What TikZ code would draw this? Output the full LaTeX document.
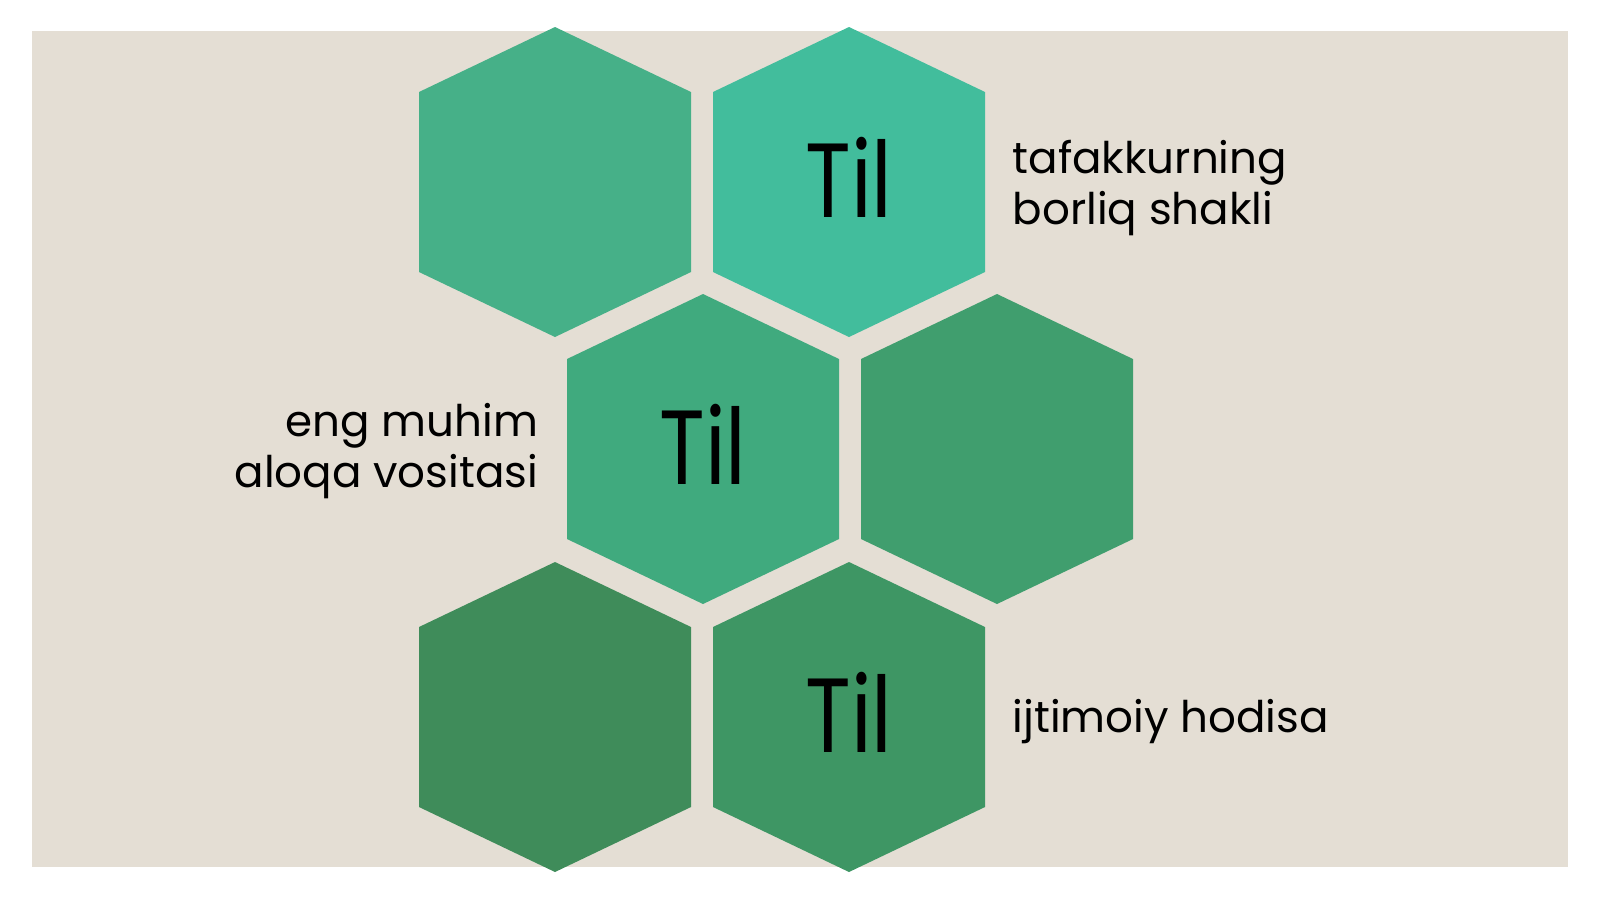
\documentclass[tikz,border=0pt]{standalone}
\usepackage{fontspec}
\setmainfont{Poppins}
\newfontfamily\tilfont{Poppins}[FakeStretch=0.8]
\usetikzlibrary{positioning}
\definecolor{slide}{HTML}{E4DED4}
\definecolor{cellA}{HTML}{46B088}
\definecolor{cellB}{HTML}{42BD9C}
\definecolor{cellC}{HTML}{40AA7E}
\definecolor{cellD}{HTML}{409E6E}
\definecolor{cellE}{HTML}{3F8C5A}
\definecolor{cellF}{HTML}{3E9664}
\begin{document}
\begin{tikzpicture}
			[
				x = 0.01cm, y = -0.01cm,
				hexcell/.pic = {\fill [#1] (-136,-90) -- (0,-155) -- (136,-90) -- (136,90) -- (0,155) -- (-136,90) -- cycle;},
				tilword/.style = {font = \tilfont\fontsize{30}{30}\selectfont, inner sep = 0pt, yshift = 0.05cm},
				sidetext/.style = {font = \fontsize{12.4}{14.6}\selectfont, inner sep = 0pt}
			]
			%
			\useasboundingbox (0,0) rectangle (1600,899);
			\fill [slide] (32,31) rectangle (1568,867);
			%
			\coordinate (hexA) at (555,182);
			\coordinate (hexB) at (849,182);
			\coordinate (hexC) at (703,449);
			\coordinate (hexD) at (997,449);
			\coordinate (hexE) at (555,717);
			\coordinate (hexF) at (849,717);
			%
			\pic at (hexA) {hexcell = cellA};
			\pic at (hexB) {hexcell = cellB};
			\pic at (hexC) {hexcell = cellC};
			\pic at (hexD) {hexcell = cellD};
			\pic at (hexE) {hexcell = cellE};
			\pic at (hexF) {hexcell = cellF};
			%
			\node (tilB) [tilword] at (hexB) {Til};
			\node (tilC) [tilword] at (hexC) {Til};
			\node (tilF) [tilword] at (hexF) {Til};
			%
			\node (thought) [sidetext, align = left, right = 1.63cm of hexB, yshift = -0.06cm] {tafakkurning\\borliq shakli};
			\node (contact) [sidetext, align = right, left = 1.64cm of hexC, yshift = -0.02cm] {eng muhim\\aloqa vositasi};
			\node (social) [sidetext, right = 1.63cm of hexF, yshift = -0.05cm] {ijtimoiy hodisa};
			%
\end{tikzpicture}
\end{document}
